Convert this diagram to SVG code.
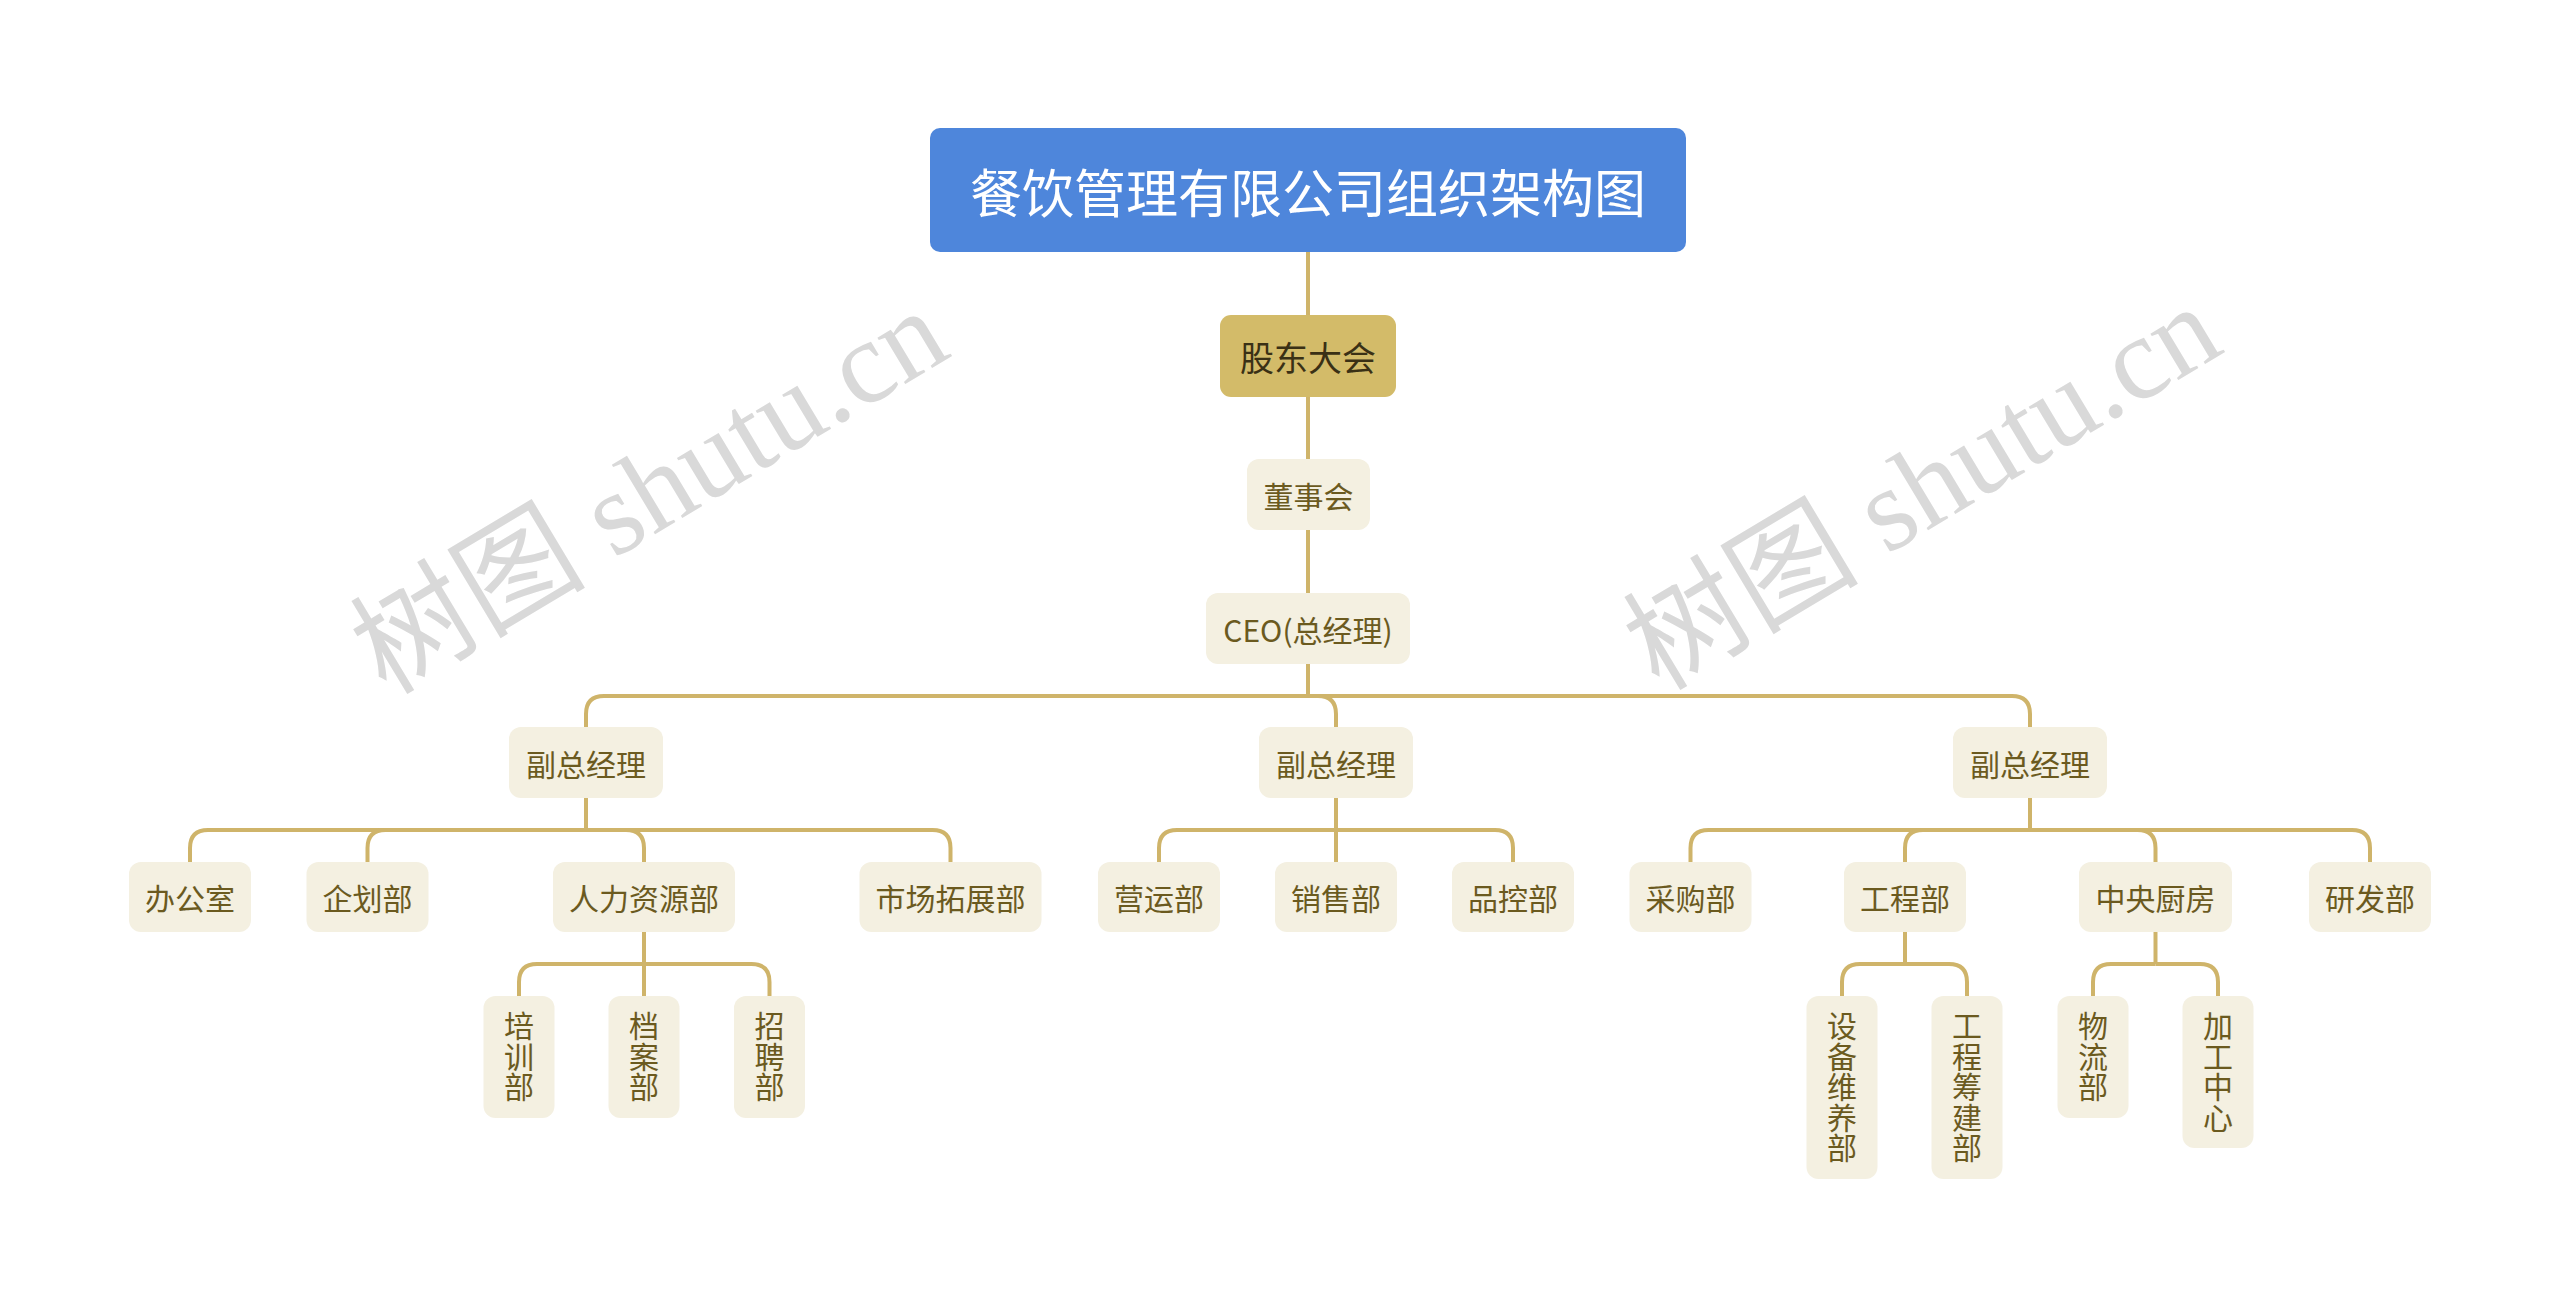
<svg xmlns="http://www.w3.org/2000/svg" width="2560" height="1308" viewBox="0 0 2560 1308">
<style>
.bg{fill:#ffffff}
.wm{font-family:"Liberation Serif","Noto Sans CJK SC",serif;font-size:118px;fill:#d9d9d9}
.conn path{fill:none;stroke:#cfb46a;stroke-width:4;stroke-linecap:butt}
.nd rect{fill:#f4f0e1}
.t{font-family:"Noto Sans CJK SC","Noto Sans",sans-serif;font-size:30px;fill:#6b5a1f;text-anchor:middle;dominant-baseline:central}
.v{font-family:"Noto Sans CJK SC","Noto Sans",sans-serif;font-size:30px;fill:#6b5a1f;writing-mode:vertical-rl;text-orientation:upright;text-anchor:start;letter-spacing:0.5px}
.root rect{fill:#4e86db}
.root text{font-family:"Noto Sans CJK SC",sans-serif;font-size:52px;fill:#ffffff;text-anchor:middle;dominant-baseline:central}
.gd rect{fill:#d3bb69}
.gd text{font-family:"Noto Sans CJK SC",sans-serif;font-size:34px;fill:#3a3015;text-anchor:middle;dominant-baseline:central}
</style>
<rect class="bg" x="0" y="0" width="2560" height="1308"/>
<g id="watermarks">
<text class="wm" x="386" y="696" transform="rotate(-31 386 696)">树图 shutu.cn</text>
<text class="wm" x="1659" y="692" transform="rotate(-31 1659 692)">树图 shutu.cn</text>
</g>
<g id="connectors" class="conn">
<path d="M1308 252 V315"/>
<path d="M1308 397 V459"/>
<path d="M1308 530 V593"/>
<path d="M1308 664 V696"/>
<path d="M1308 696 H604 Q586 696 586 714 V727"/>
<path d="M1308 696 H1318 Q1336 696 1336 714 V727"/>
<path d="M1308 696 H2012 Q2030 696 2030 714 V727"/>
<path d="M586 798 V830"/>
<path d="M586 830 H208 Q190 830 190 848 V862"/>
<path d="M586 830 H385.5 Q367.5 830 367.5 848 V862"/>
<path d="M586 830 H626 Q644 830 644 848 V862"/>
<path d="M586 830 H932.5 Q950.5 830 950.5 848 V862"/>
<path d="M1336 798 V862"/>
<path d="M1336 830 H1177 Q1159 830 1159 848 V862"/>
<path d="M1336 830 H1495 Q1513 830 1513 848 V862"/>
<path d="M2030 798 V830"/>
<path d="M2030 830 H1708.5 Q1690.5 830 1690.5 848 V862"/>
<path d="M2030 830 H1923 Q1905 830 1905 848 V862"/>
<path d="M2030 830 H2137.5 Q2155.5 830 2155.5 848 V862"/>
<path d="M2030 830 H2352 Q2370 830 2370 848 V862"/>
<path d="M644 932 V996"/>
<path d="M644 964 H537 Q519 964 519 982 V996"/>
<path d="M644 964 H751.5 Q769.5 964 769.5 982 V996"/>
<path d="M1905 932 V964"/>
<path d="M1905 964 H1860 Q1842 964 1842 982 V996"/>
<path d="M1905 964 H1949 Q1967 964 1967 982 V996"/>
<path d="M2155.5 932 V964"/>
<path d="M2155.5 964 H2111 Q2093 964 2093 982 V996"/>
<path d="M2155.5 964 H2200 Q2218 964 2218 982 V996"/>
</g>
<g id="root" class="root"><rect x="930" y="128" width="756" height="124" rx="10"/><text x="1308" y="190">餐饮管理有限公司组织架构图</text></g>
<g id="gudong" class="gd"><rect x="1220" y="315" width="176" height="82" rx="11"/><text x="1308" y="356">股东大会</text></g>
<g id="dongshihui" class="nd"><rect x="1247" y="459" width="123" height="71" rx="12"/><text class="t" x="1308.5" y="495">董事会</text></g>
<g id="ceo" class="nd"><rect x="1206" y="593" width="204" height="71" rx="12"/><text class="t" x="1308" y="628.5">CEO(总经理)</text></g>
<g id="vp1" class="nd"><rect x="509" y="727" width="154" height="71" rx="12"/><text class="t" x="586" y="762.5">副总经理</text></g>
<g id="vp2" class="nd"><rect x="1259" y="727" width="154" height="71" rx="12"/><text class="t" x="1336" y="762.5">副总经理</text></g>
<g id="vp3" class="nd"><rect x="1953" y="727" width="154" height="71" rx="12"/><text class="t" x="2030" y="762.5">副总经理</text></g>
<g id="bgs" class="nd"><rect x="129" y="862" width="122" height="70" rx="12"/><text class="t" x="190" y="897">办公室</text></g>
<g id="qhb" class="nd"><rect x="306.5" y="862" width="122" height="70" rx="12"/><text class="t" x="367.5" y="897">企划部</text></g>
<g id="rlzyb" class="nd"><rect x="553" y="862" width="182" height="70" rx="12"/><text class="t" x="644" y="897">人力资源部</text></g>
<g id="sctzb" class="nd"><rect x="859.5" y="862" width="182" height="70" rx="12"/><text class="t" x="950.5" y="897">市场拓展部</text></g>
<g id="yyb" class="nd"><rect x="1098" y="862" width="122" height="70" rx="12"/><text class="t" x="1159" y="897">营运部</text></g>
<g id="xsb" class="nd"><rect x="1275" y="862" width="122" height="70" rx="12"/><text class="t" x="1336" y="897">销售部</text></g>
<g id="pkb" class="nd"><rect x="1452" y="862" width="122" height="70" rx="12"/><text class="t" x="1513" y="897">品控部</text></g>
<g id="cgb" class="nd"><rect x="1629.5" y="862" width="122" height="70" rx="12"/><text class="t" x="1690.5" y="897">采购部</text></g>
<g id="gcb" class="nd"><rect x="1844" y="862" width="122" height="70" rx="12"/><text class="t" x="1905" y="897">工程部</text></g>
<g id="zycf" class="nd"><rect x="2079" y="862" width="153" height="70" rx="12"/><text class="t" x="2155.5" y="897">中央厨房</text></g>
<g id="yfb" class="nd"><rect x="2309" y="862" width="122" height="70" rx="12"/><text class="t" x="2370" y="897">研发部</text></g>
<g id="pxb" class="nd"><rect x="483.5" y="996" width="71" height="122" rx="12"/><text class="v" x="519" y="1011">培训部</text></g>
<g id="dab" class="nd"><rect x="608.5" y="996" width="71" height="122" rx="12"/><text class="v" x="644" y="1011">档案部</text></g>
<g id="zpb" class="nd"><rect x="734" y="996" width="71" height="122" rx="12"/><text class="v" x="769.5" y="1011">招聘部</text></g>
<g id="sbwyb" class="nd"><rect x="1806.5" y="996" width="71" height="183" rx="12"/><text class="v" x="1842" y="1011">设备维养部</text></g>
<g id="gccjb" class="nd"><rect x="1931.5" y="996" width="71" height="183" rx="12"/><text class="v" x="1967" y="1011">工程筹建部</text></g>
<g id="wlb" class="nd"><rect x="2057.5" y="996" width="71" height="122" rx="12"/><text class="v" x="2093" y="1011">物流部</text></g>
<g id="jgzx" class="nd"><rect x="2182.5" y="996" width="71" height="152" rx="12"/><text class="v" x="2218" y="1011">加工中心</text></g>
</svg>
